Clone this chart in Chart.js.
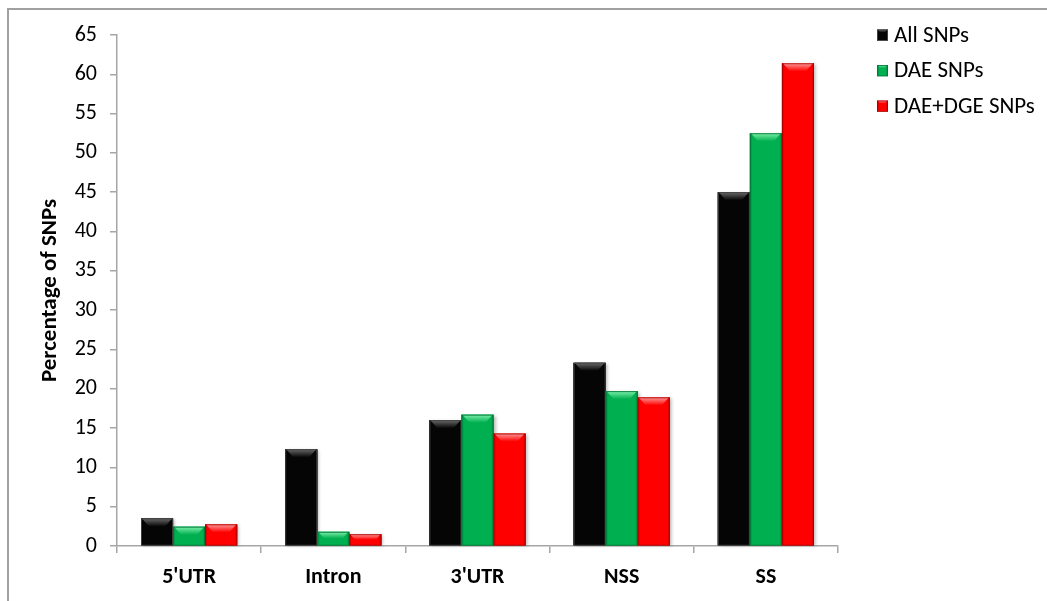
<!DOCTYPE html>
<html>
<head>
<meta charset="utf-8">
<title>Percentage of SNPs by region</title>
<script src="https://cdn.jsdelivr.net/npm/chart.js@4/dist/chart.umd.min.js"></script>
<style>
  html, body { margin: 0; padding: 0; background: #ffffff; }
  #wrap { position: relative; width: 1047px; height: 601px; }
  canvas { display: block; }
</style>
</head>
<body>
<div id="wrap"><canvas id="chart" width="1047" height="601"></canvas></div>
<script>
// Categories (SNP location classes)
const categories = ["5'UTR", "Intron", "3'UTR", "NSS", "SS"];

// Series values (% of SNPs)
const allSnps    = [3.5, 12.3, 16.0, 23.3, 45.0];
const daeSnps    = [2.45, 1.8, 16.7, 19.7, 52.5];
const daeDgeSnps = [2.75, 1.5, 14.3, 18.9, 61.4];

// Series names
const seriesNames = ["All SNPs", "DAE SNPs", "DAE+DGE SNPs"];

// Y axis range and tick step
const yMin = 0, yMax = 65, yStep = 5;

const FONT = "Carlito, Lato, 'Open Sans', sans-serif";
const AXIS_GRAY = '#a6a6a6';

// Face colours and top-bevel highlight colours for each series
const faceColors = ['#050505', '#00b050', '#ff0000'];
const bevelTop   = ['#6a6a6a', '#7ef0aa', '#ff9a9a'];
const edgeColors = ['rgba(70,70,70,0.9)', 'rgba(0,110,50,0.8)', 'rgba(150,0,0,0.7)'];

// Draws a bevelled box (flat face, lighter top facet, thin outline)
function bevelBox(ctx, l, t, w, h, i, maxBevel) {
  const r = l + w, b = t + h;
  ctx.fillStyle = faceColors[i];
  ctx.fillRect(l, t, w, h);
  const bv = Math.min(maxBevel, h / 2, w / 2);
  if (bv > 0.5) {
    const g = ctx.createLinearGradient(0, t, 0, t + bv);
    g.addColorStop(0, bevelTop[i]);
    g.addColorStop(1, faceColors[i]);
    ctx.fillStyle = g;
    ctx.beginPath();
    ctx.moveTo(l + 1, t);
    ctx.lineTo(r - 1, t);
    ctx.lineTo(r - bv, t + bv);
    ctx.lineTo(l + bv, t + bv);
    ctx.closePath();
    ctx.fill();
    // slightly darker side facets
    ctx.fillStyle = 'rgba(0,0,0,0.10)';
    ctx.beginPath();
    ctx.moveTo(l, t); ctx.lineTo(l + 2, t + 2); ctx.lineTo(l + 2, b); ctx.lineTo(l, b);
    ctx.closePath(); ctx.fill();
    ctx.beginPath();
    ctx.moveTo(r, t); ctx.lineTo(r - 2, t + 2); ctx.lineTo(r - 2, b); ctx.lineTo(r, b);
    ctx.closePath(); ctx.fill();
  }
  ctx.strokeStyle = edgeColors[i];
  ctx.lineWidth = 1;
  ctx.strokeRect(l + 0.5, t + 0.5, w - 1, h - 0.5);
}

// Bars are re-painted with a bevel look, using the geometry Chart.js computed
const bevelBars = {
  id: 'bevelBars',
  afterDatasetsDraw(chart) {
    const ctx = chart.ctx;
    ctx.save();
    chart.data.datasets.forEach((ds, i) => {
      const meta = chart.getDatasetMeta(i);
      if (meta.hidden) return;
      meta.data.forEach(bar => {
        const p = bar.getProps(['x', 'y', 'base', 'width'], true);
        const l = p.x - p.width / 2;
        const t = Math.min(p.y, p.base);
        const h = Math.abs(p.base - p.y);
        ctx.shadowColor = 'rgba(0,0,0,0.28)';
        ctx.shadowBlur = 3;
        ctx.shadowOffsetX = 2;
        ctx.shadowOffsetY = 1;
        ctx.fillStyle = faceColors[i];
        ctx.fillRect(l, t, p.width, h);
        ctx.shadowColor = 'transparent';
        bevelBox(ctx, l, t, p.width, h, i, 8);
      });
    });
    ctx.restore();
  }
};

// Legend at the upper right, one row per series
const sideLegend = {
  id: 'sideLegend',
  afterDraw(chart) {
    const ctx = chart.ctx;
    ctx.save();
    const x0 = 877, y0 = 35, rowGap = 35.5, box = 11;
    ctx.font = '23px ' + FONT;
    ctx.textBaseline = 'middle';
    ctx.textAlign = 'left';
    chart.data.datasets.forEach((ds, i) => {
      const cy = y0 + i * rowGap;
      bevelBox(ctx, x0, cy - box / 2, box, box, i, 3);
      ctx.fillStyle = '#000000';
      ctx.fillText(ds.label, x0 + box + 6, cy + 1);
    });
    ctx.restore();
  }
};

// Outer frame: top and left edges
const frame = {
  id: 'frame',
  beforeDraw(chart) {
    const ctx = chart.ctx;
    ctx.save();
    ctx.fillStyle = '#ffffff';
    ctx.fillRect(0, 0, chart.width, chart.height);
    ctx.strokeStyle = '#a0a0a0';
    ctx.lineWidth = 2;
    ctx.beginPath();
    ctx.moveTo(8, chart.height);
    ctx.lineTo(8, 9);
    ctx.lineTo(chart.width, 9);
    ctx.stroke();
    ctx.restore();
  }
};

const seriesValues = [allSnps, daeSnps, daeDgeSnps];

new Chart(document.getElementById('chart'), {
  type: 'bar',
  data: {
    labels: categories,
    datasets: seriesNames.map((name, i) => ({
      label: name,
      data: seriesValues[i],
      backgroundColor: faceColors[i],
      borderWidth: 0,
      categoryPercentage: 0.667,
      barPercentage: 1.0
    }))
  },
  options: {
    responsive: false,
    devicePixelRatio: 1,
    animation: false,
    layout: { padding: { left: 28, right: 209, top: 35, bottom: 0 } },
    plugins: {
      legend: { display: false },
      tooltip: { enabled: false }
    },
    scales: {
      x: {
        offset: true,
        grid: {
          offset: true,
          drawOnChartArea: false,
          drawTicks: true,
          tickLength: 7,
          tickColor: AXIS_GRAY,
          lineWidth: 1.5
        },
        border: { color: AXIS_GRAY, width: 1.5 },
        ticks: {
          color: '#000000',
          padding: 11,
          font: { family: FONT, size: 22, weight: 'bold' }
        },
        afterFit(scale) { scale.height = 55; }
      },
      y: {
        min: yMin,
        max: yMax,
        grid: {
          drawOnChartArea: false,
          drawTicks: true,
          tickLength: 7,
          tickColor: AXIS_GRAY,
          lineWidth: 1.5
        },
        border: { color: AXIS_GRAY, width: 1.5 },
        ticks: {
          stepSize: yStep,
          color: '#000000',
          padding: 13,
          font: { family: FONT, size: 22 }
        },
        title: {
          display: true,
          text: 'Percentage of SNPs',
          color: '#000000',
          padding: { top: 8, bottom: 0 },
          font: { family: FONT, size: 23, weight: 'bold' }
        },
        afterFit(scale) { scale.width = 89; }
      }
    }
  },
  plugins: [frame, bevelBars, sideLegend]
});
</script>
</body>
</html>
